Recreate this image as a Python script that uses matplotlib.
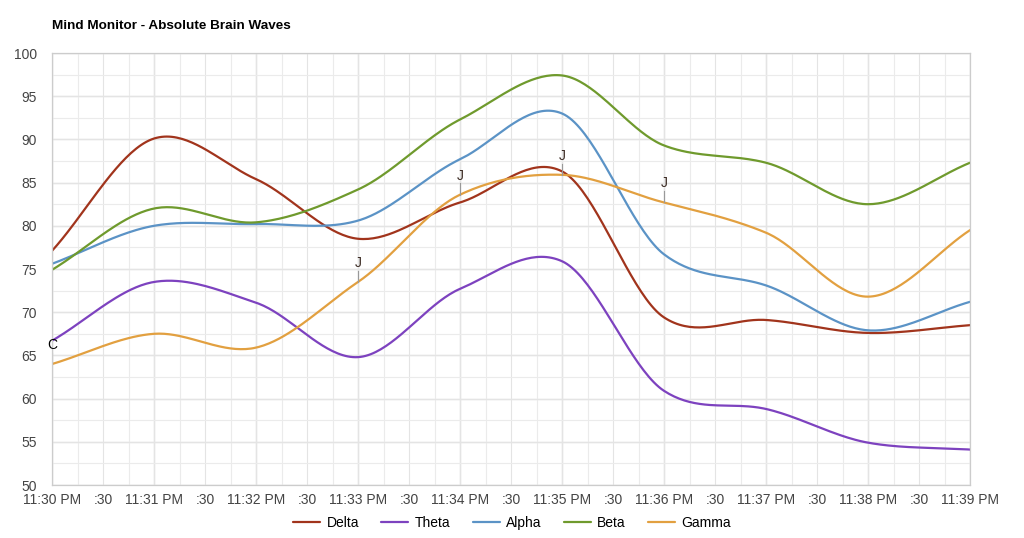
import numpy as np
import matplotlib.pyplot as plt
from matplotlib.ticker import MultipleLocator

plt.rcParams['font.family'] = ['Liberation Sans', 'DejaVu Sans']

# minutes after 11:30 PM, one sample per minute
minutes = [0, 1, 2, 3, 4, 5, 6, 7, 8, 9]
tick_labels = ["11:30 PM", ":30", "11:31 PM", ":30", "11:32 PM", ":30", "11:33 PM", ":30",
               "11:34 PM", ":30", "11:35 PM", ":30", "11:36 PM", ":30", "11:37 PM", ":30",
               "11:38 PM", ":30", "11:39 PM"]

delta = [77.1, 90.1, 85.4, 78.5, 82.7, 86.3, 69.4, 69.1, 67.6, 68.5]
theta = [66.7, 73.5, 71.1, 64.8, 72.7, 75.9, 60.9, 58.8, 54.9, 54.1]
alpha = [75.6, 80.0, 80.2, 80.6, 87.7, 93.0, 76.7, 73.1, 67.9, 71.2]
beta = [74.9, 82.0, 80.4, 84.2, 92.3, 97.4, 89.3, 87.3, 82.5, 87.3]
gamma = [64.0, 67.5, 65.9, 73.5, 83.6, 85.9, 82.7, 79.2, 71.8, 79.5]
annotations = ["C", "", "", "J", "J", "J", "J", "", "", ""]

series = [("Delta", delta, "#a1341c"), ("Theta", theta, "#7d42bf"),
          ("Alpha", alpha, "#5b93c6"), ("Beta", beta, "#6f9a2d"),
          ("Gamma", gamma, "#e2a040")]


def smooth(x, y, n=40, k=0.9):
    """Cubic Hermite curve through the points (like curveType 'function')."""
    x = np.asarray(x, float)
    y = np.asarray(y, float)
    m = np.zeros_like(y)
    m[1:-1] = k * (y[2:] - y[:-2]) / (x[2:] - x[:-2])
    m[0] = (y[1] - y[0]) / (x[1] - x[0])
    m[-1] = (y[-1] - y[-2]) / (x[-1] - x[-2])
    xs, ys = [], []
    for i in range(len(x) - 1):
        h = x[i + 1] - x[i]
        t = np.linspace(0, 1, n, endpoint=False)
        h00 = 2 * t**3 - 3 * t**2 + 1
        h10 = t**3 - 2 * t**2 + t
        h01 = -2 * t**3 + 3 * t**2
        h11 = t**3 - t**2
        xs.append(x[i] + t * h)
        ys.append(h00 * y[i] + h10 * h * m[i] + h01 * y[i + 1] + h11 * h * m[i + 1])
    xs.append([x[-1]])
    ys.append([y[-1]])
    return np.concatenate(xs), np.concatenate(ys)


fig = plt.figure(figsize=(10.24, 5.38), dpi=100)
ax = fig.add_axes([52 / 1024, 53 / 538, 918 / 1024, 432 / 538])

for name, vals, color in series:
    xs, ys = smooth(minutes, vals)
    ax.plot(xs, ys, color=color, lw=1.6, label=name, solid_capstyle='round')

# annotations sit on the Gamma series
for xm, val, txt in zip(minutes, gamma, annotations):
    if not txt:
        continue
    stem_top = val + 1.3
    ax.plot([xm, xm], [val, stem_top], color="#999999", lw=0.8)
    ax.text(xm, stem_top + 0.1, txt, ha="center", va="bottom", fontsize=10,
            color="#000000" if txt == "C" else "#3a2a22")

ax.set_xlim(0, 9)
ax.set_ylim(50, 100)
ax.set_xticks(np.arange(0, 9.01, 0.5))
ax.set_xticklabels(tick_labels)
ax.set_yticks(np.arange(50, 101, 5))
ax.xaxis.set_minor_locator(MultipleLocator(0.25))
ax.yaxis.set_minor_locator(MultipleLocator(2.5))

ax.grid(which="minor", color="#ebebeb", lw=0.8)
ax.grid(which="major", color="#e4e4e4", lw=0.8)
for xm in minutes:
    ax.axvline(xm, color="#cccccc", lw=0.9, zorder=0.5)
for yv in range(50, 101, 5):
    ax.axhline(yv, color="#cccccc", lw=0.9, zorder=0.5)
ax.set_axisbelow(True)

for sp in ax.spines.values():
    sp.set_color("#cccccc")
    sp.set_linewidth(0.9)
ax.tick_params(which="both", length=0, labelsize=10, colors="#444444", pad=6)
ax.tick_params(axis="y", pad=11)

fig.text(52 / 1024, 1 - 26 / 538, "Mind Monitor - Absolute Brain Waves", fontsize=9.7,
         fontweight="bold", ha="left", va="center")

fig.legend(loc="center", bbox_to_anchor=(0.5, 1 - 523 / 538), ncol=5, frameon=False,
           fontsize=10, handlelength=1.95, columnspacing=1.6, handletextpad=0.45)

fig.savefig("out.png", dpi=100)
